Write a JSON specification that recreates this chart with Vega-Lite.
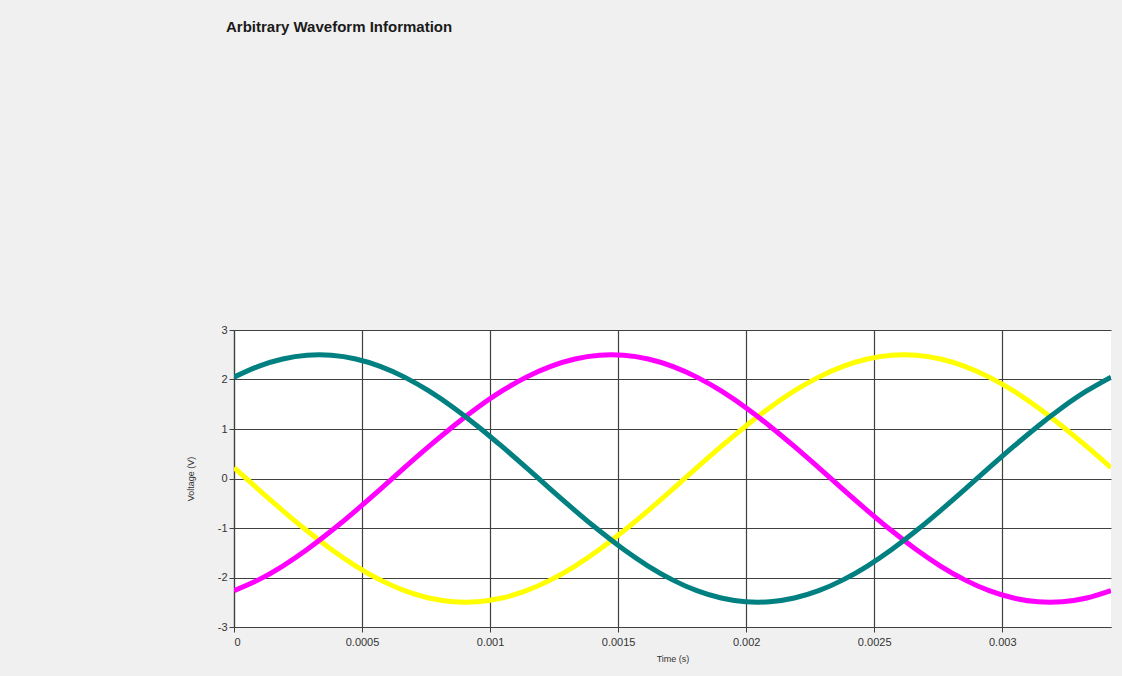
{
  "$schema": "https://vega.github.io/schema/vega-lite/v6.json",
  "autosize": {"type": "none"},
  "padding": {"left": 234, "top": 330, "right": 11, "bottom": 49},
  "width": 877,
  "height": 297,
  "background": "#f0f0f0",
  "title": {
    "text": "Arbitrary Waveform Information",
    "anchor": "start",
    "frame": "group",
    "offset": 289,
    "dx": -8,
    "font": "Liberation Sans",
    "fontSize": 15,
    "fontWeight": "bold",
    "color": "#1a1a1a"
  },
  "config": {
    "view": {"fill": "white", "stroke": null},
    "axis": {
      "labelFont": "Liberation Sans",
      "titleFont": "Liberation Sans",
      "labelColor": "#333333",
      "titleColor": "#333333",
      "labelFontSize": 11,
      "titleFontSize": 9,
      "titleFontWeight": "normal",
      "gridColor": "#404040",
      "gridOpacity": 1,
      "gridWidth": 1.2,
      "domainColor": "#404040",
      "domainWidth": 1.2,
      "tickColor": "#404040",
      "tickSize": 5
    }
  },
  "data": {
    "values": [
      {"t": 0, "A": 2.048, "B": -2.266, "C": 0.218},
      {"t": 0.0000951, "A": 2.266, "B": -2.048, "C": -0.218},
      {"t": 0.0001903, "A": 2.415, "B": -1.768, "C": -0.647},
      {"t": 0.0002854, "A": 2.49, "B": -1.434, "C": -1.057},
      {"t": 0.0003805, "A": 2.49, "B": -1.057, "C": -1.434},
      {"t": 0.0004757, "A": 2.415, "B": -0.647, "C": -1.768},
      {"t": 0.0005708, "A": 2.266, "B": -0.218, "C": -2.048},
      {"t": 0.0006659, "A": 2.048, "B": 0.218, "C": -2.266},
      {"t": 0.000761, "A": 1.768, "B": 0.647, "C": -2.415},
      {"t": 0.0008562, "A": 1.434, "B": 1.057, "C": -2.49},
      {"t": 0.0009513, "A": 1.057, "B": 1.434, "C": -2.49},
      {"t": 0.0010464, "A": 0.647, "B": 1.768, "C": -2.415},
      {"t": 0.0011416, "A": 0.218, "B": 2.048, "C": -2.266},
      {"t": 0.0012367, "A": -0.218, "B": 2.266, "C": -2.048},
      {"t": 0.0013318, "A": -0.647, "B": 2.415, "C": -1.768},
      {"t": 0.001427, "A": -1.057, "B": 2.49, "C": -1.434},
      {"t": 0.0015221, "A": -1.434, "B": 2.49, "C": -1.057},
      {"t": 0.0016172, "A": -1.768, "B": 2.415, "C": -0.647},
      {"t": 0.0017124, "A": -2.048, "B": 2.266, "C": -0.218},
      {"t": 0.0018075, "A": -2.266, "B": 2.048, "C": 0.218},
      {"t": 0.0019026, "A": -2.415, "B": 1.768, "C": 0.647},
      {"t": 0.0019977, "A": -2.49, "B": 1.434, "C": 1.057},
      {"t": 0.0020929, "A": -2.49, "B": 1.057, "C": 1.434},
      {"t": 0.002188, "A": -2.415, "B": 0.647, "C": 1.768},
      {"t": 0.0022831, "A": -2.266, "B": 0.218, "C": 2.048},
      {"t": 0.0023783, "A": -2.048, "B": -0.218, "C": 2.266},
      {"t": 0.0024734, "A": -1.768, "B": -0.647, "C": 2.415},
      {"t": 0.0025685, "A": -1.434, "B": -1.057, "C": 2.49},
      {"t": 0.0026637, "A": -1.057, "B": -1.434, "C": 2.49},
      {"t": 0.0027588, "A": -0.647, "B": -1.768, "C": 2.415},
      {"t": 0.0028539, "A": -0.218, "B": -2.048, "C": 2.266},
      {"t": 0.0029491, "A": 0.218, "B": -2.266, "C": 2.048},
      {"t": 0.0030442, "A": 0.647, "B": -2.415, "C": 1.768},
      {"t": 0.0031393, "A": 1.057, "B": -2.49, "C": 1.434},
      {"t": 0.0032344, "A": 1.434, "B": -2.49, "C": 1.057},
      {"t": 0.0033296, "A": 1.768, "B": -2.415, "C": 0.647},
      {"t": 0.0034247, "A": 2.048, "B": -2.266, "C": 0.218}
    ]
  },
  "transform": [{"fold": ["C", "B", "A"], "as": ["phase", "v"]}],
  "mark": {"type": "line", "interpolate": "natural", "strokeWidth": 5, "clip": true},
  "encoding": {
    "x": {
      "field": "t",
      "type": "quantitative",
      "title": "Time (s)",
      "scale": {"domain": [0, 0.0034247], "nice": false, "zero": false},
      "axis": {
        "values": [0, 0.0005, 0.001, 0.0015, 0.002, 0.0025, 0.003],
        "format": "~g",
        "labelPadding": 4,
        "titlePadding": 7
      }
    },
    "y": {
      "field": "v",
      "type": "quantitative",
      "title": "Voltage (V)",
      "scale": {"domain": [-3, 3], "nice": false},
      "axis": {
        "values": [-3, -2, -1, 0, 1, 2, 3],
        "labelExpr": "replace(datum.label, '−', '-')",
        "labelPadding": 2,
        "titlePadding": 22
      }
    },
    "color": {
      "field": "phase",
      "type": "nominal",
      "scale": {"domain": ["A", "B", "C"], "range": ["#008080", "#ff00ff", "#ffff00"]},
      "legend": null
    },
    "order": {"field": "t", "type": "quantitative"}
  }
}
